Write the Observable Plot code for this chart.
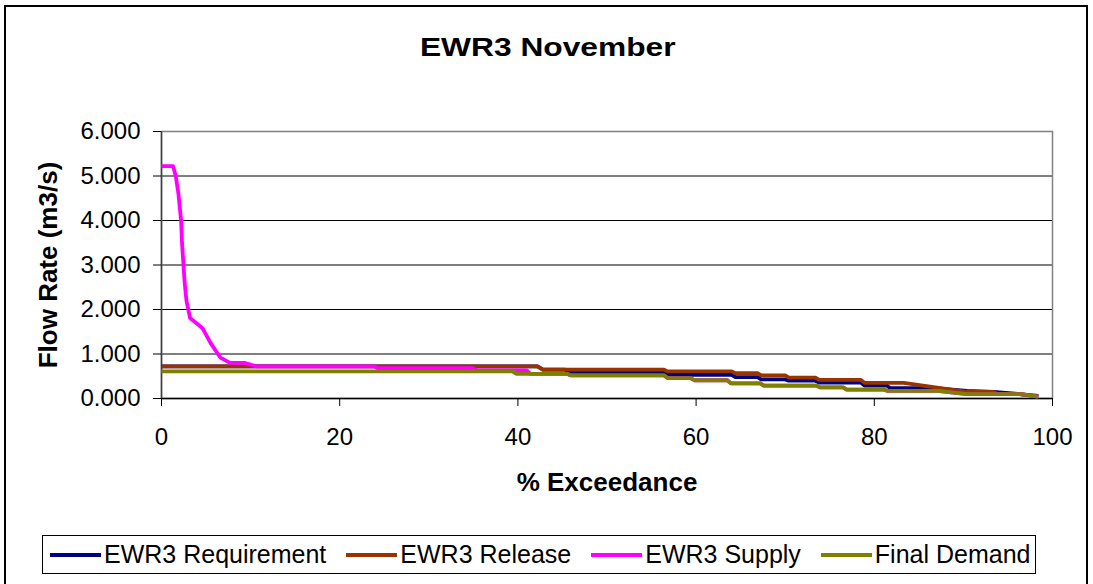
<!DOCTYPE html>
<html>
<head>
<meta charset="utf-8">
<script src="https://cdn.jsdelivr.net/npm/d3@7"></script>
<script src="https://cdn.jsdelivr.net/npm/@observablehq/plot@0.6"></script>
<style>
  html, body { margin: 0; padding: 0; background: #fff; overflow: hidden; }
  #wrap { position: relative; width: 1093px; height: 584px; font-family: "Liberation Sans", Arial, sans-serif; }
  #border { position: absolute; left: 4px; top: 5px; width: 1084px; height: 590px; border: 2px solid #000; box-sizing: border-box; }
  #title { position: absolute; left: 0; top: 34px; width: 1096px; text-align: center; }
  #title span { display: inline-block; font-weight: bold; font-size: 26px; line-height: 26px; transform: scaleX(1.22); }
  #chart { position: absolute; left: 0; top: 0; }
  #legend { position: absolute; left: 42px; top: 535px; width: 994px; height: 39px; border: 1px solid #000; box-sizing: border-box; display: flex; align-items: center; justify-content: flex-start; padding-left: 7px; font-size: 25px; background: #fff; }
  .item { display: flex; align-items: center; margin-right: 20px; white-space: nowrap; }
  .item:last-child { margin-right: 0; }
  .sw { display: inline-block; width: 51px; height: 4px; margin-right: 3px; }
</style>
</head>
<body>
<div id="wrap">
  <div id="border"></div>
  <div id="title"><span>EWR3 November</span></div>
  <div id="chart"></div>
  <div id="legend"></div>
</div>
<script>
// ---- data ----
const categories = ["EWR3 Requirement", "EWR3 Release", "EWR3 Supply", "Final Demand"];
const seriesColors = ["#000080", "#993300", "#FF00FF", "#808000"];
const xTicks = [0, 20, 40, 60, 80, 100];
const yTicks = [0, 1, 2, 3, 4, 5, 6];

// EWR3 Requirement
const reqX = [0, 42.2, 42.8, 45.3, 45.7, 56.4, 56.8, 64.0, 64.4, 66.9, 67.3, 70.0, 70.4, 73.4, 73.8, 78.5, 78.9, 81.4, 81.8, 86.7, 90.4, 93.4, 98.4];
const reqY = [0.72, 0.72, 0.65, 0.65, 0.58, 0.58, 0.53, 0.53, 0.48, 0.48, 0.43, 0.43, 0.40, 0.40, 0.36, 0.36, 0.29, 0.29, 0.23, 0.23, 0.17, 0.15, 0.06];

// EWR3 Release
const relX = [0, 42.2, 42.8, 56.4, 56.8, 64.0, 64.4, 66.9, 67.3, 70.0, 70.4, 73.4, 73.8, 78.5, 78.9, 83.3, 90.4, 93.4, 93.8, 96.4, 98.4];
const relY = [0.72, 0.72, 0.65, 0.65, 0.61, 0.61, 0.57, 0.57, 0.52, 0.52, 0.47, 0.47, 0.42, 0.42, 0.35, 0.35, 0.15, 0.15, 0.10, 0.10, 0.04];

// EWR3 Supply
const supX = [0, 1.3, 1.6, 1.9, 2.2, 2.3, 2.6, 2.8, 3.2, 4.0, 4.6, 5.5, 6.6, 7.7, 9.3, 10.7, 23.9, 24.3, 35.0, 35.4, 41.0, 41.4, 45.5, 45.9, 56.4, 56.8, 59.4, 59.8, 63.5, 63.9, 67.2, 67.6, 73.5, 73.9, 76.5, 76.9, 81.1, 81.5, 87.1, 90.4, 96.4, 98.4];
const supY = [5.22, 5.22, 5.00, 4.60, 4.00, 3.50, 2.60, 2.20, 1.81, 1.68, 1.58, 1.25, 0.92, 0.80, 0.80, 0.72, 0.72, 0.68, 0.68, 0.63, 0.63, 0.555, 0.555, 0.52, 0.52, 0.46, 0.46, 0.41, 0.41, 0.34, 0.34, 0.29, 0.29, 0.25, 0.25, 0.20, 0.20, 0.17, 0.17, 0.10, 0.10, 0.04];

// Final Demand
const demX = [0, 39.4, 39.8, 45.5, 45.9, 56.4, 56.8, 59.4, 59.8, 63.5, 63.9, 67.2, 67.6, 73.5, 73.9, 76.5, 76.9, 81.1, 81.5, 87.1, 90.4, 96.4, 98.4];
const demY = [0.61, 0.61, 0.555, 0.555, 0.52, 0.52, 0.46, 0.46, 0.41, 0.41, 0.34, 0.34, 0.29, 0.29, 0.25, 0.25, 0.20, 0.20, 0.17, 0.17, 0.10, 0.10, 0.04];

// ---- build tables ----
const seriesXs = [reqX, relX, supX, demX];
const seriesYs = [reqY, relY, supY, demY];
const tables = categories.map((name, i) => seriesXs[i].map((x, j) => ({series: name, x, y: seriesYs[i][j]})));

const color = {domain: categories, range: seriesColors};

const chart = Plot.plot({
  width: 1093,
  height: 584,
  marginLeft: 161,
  marginRight: 41,
  marginTop: 131,
  marginBottom: 186,
  style: {fontFamily: "'Liberation Sans', Arial, sans-serif", fontSize: "24px", color: "#000", background: "transparent", overflow: "visible"},
  x: {domain: [0, 100]},
  y: {domain: [0, 6]},
  color,
  marks: [
    Plot.gridY(yTicks.filter(d => d > 0 && d < 6), {stroke: "#000", strokeOpacity: 1, strokeWidth: 1}),
    Plot.frame({stroke: "#808080", strokeWidth: 1.5}),
    Plot.ruleY([0], {stroke: "#000", strokeWidth: 1.5}),
    Plot.ruleX([0], {stroke: "#404040", strokeWidth: 1.5}),
    Plot.axisY({ticks: yTicks, tickFormat: d3.format(".3f"), tickSize: 8, tickPadding: 13, label: null, fontSize: 24, stroke: "#000"}),
    Plot.axisX({ticks: xTicks, tickFormat: d => String(d), tickSize: 8, tickPadding: 21, label: null, fontSize: 24, stroke: "#000"}),
    Plot.text(["Flow Rate (m3/s)"], {text: d => d, frameAnchor: "left", textAnchor: "middle", rotate: -90, dx: -113, fontWeight: "bold", fontSize: 26}),
    Plot.text(["% Exceedance"], {text: d => d, frameAnchor: "bottom", dy: 92, fontWeight: "bold", fontSize: 26}),
    ...tables.map(t => Plot.line(t, {x: "x", y: "y", stroke: "series", strokeWidth: 3.8, strokeLinejoin: "round", strokeLinecap: "butt"}))
  ]
});
document.getElementById("chart").appendChild(chart);

// ---- legend ----
const legend = document.getElementById("legend");
categories.forEach((name, i) => {
  const item = document.createElement("span");
  item.className = "item";
  const sw = document.createElement("span");
  sw.className = "sw";
  sw.style.background = seriesColors[i];
  const label = document.createElement("span");
  label.textContent = name;
  item.appendChild(sw);
  item.appendChild(label);
  legend.appendChild(item);
});
</script>
</body>
</html>
